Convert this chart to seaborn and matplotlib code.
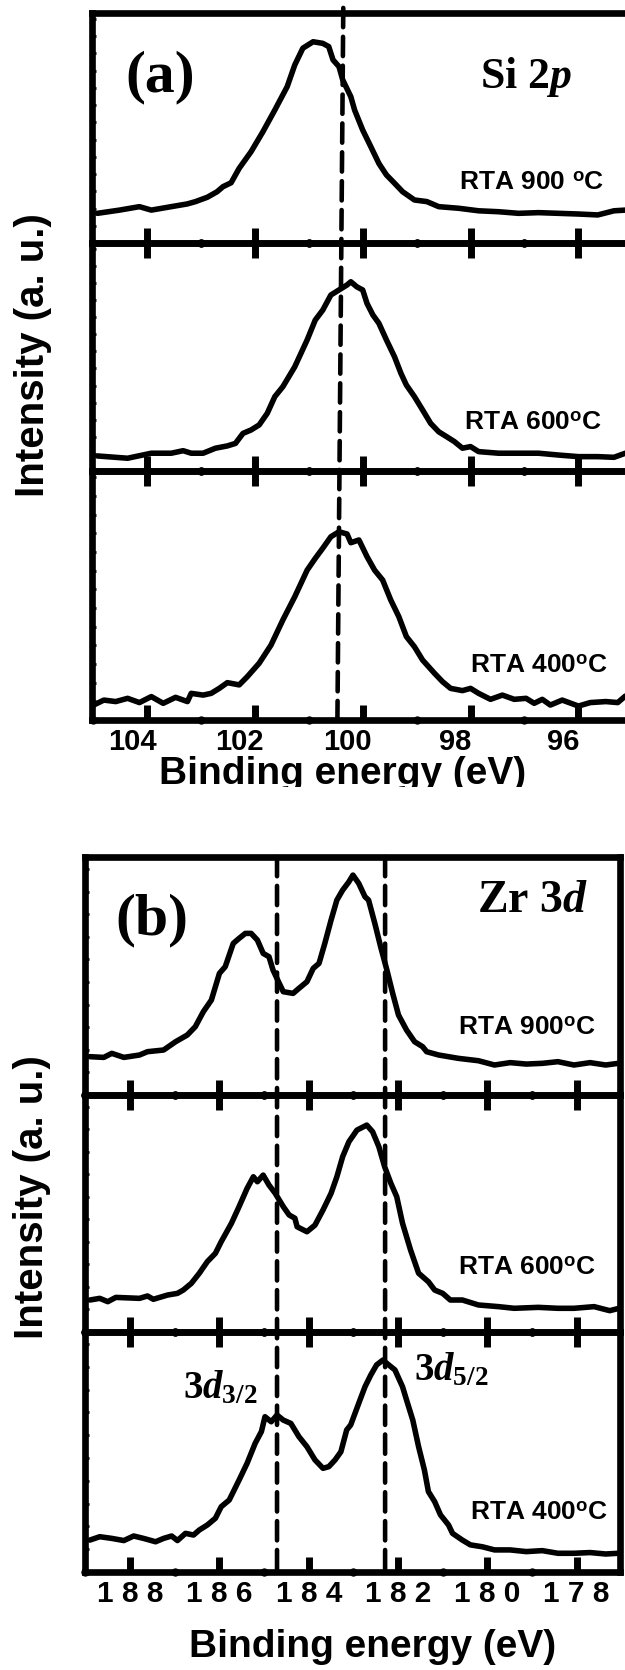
import numpy as np
import pandas as pd
import seaborn as sns
import matplotlib
matplotlib.use("Agg")
import matplotlib.pyplot as plt
import matplotlib.transforms as mtransforms
from matplotlib.patches import ConnectionPatch
from matplotlib.ticker import FixedLocator, MultipleLocator

# ---------------- data ----------------
temps = ["900", "600", "400"]

si_900_E = [104.92, 104.51, 104.14, 103.92, 103.55, 103.25, 103.10, 102.88, 102.70, 102.59,
            102.44, 102.29, 102.07, 101.85, 101.63, 101.40, 101.26, 101.11, 100.92, 100.74,
            100.63, 100.55, 100.44, 100.37, 100.22, 100.15, 100.00, 99.85, 99.70, 99.56,
            99.41, 99.26, 99.04, 98.81, 98.59, 98.22, 97.85, 97.48, 97.11, 96.74,
            96.37, 96.00, 95.64, 95.34, 95.13]
si_900_I = [0.129, 0.143, 0.158, 0.143, 0.158, 0.170, 0.180, 0.199, 0.223, 0.245,
            0.262, 0.325, 0.397, 0.484, 0.578, 0.680, 0.774, 0.847, 0.875, 0.868,
            0.854, 0.796, 0.767, 0.709, 0.636, 0.578, 0.491, 0.419, 0.346, 0.296,
            0.260, 0.223, 0.187, 0.180, 0.158, 0.151, 0.140, 0.136, 0.129, 0.132,
            0.129, 0.126, 0.122, 0.140, 0.143]

si_600_E = [104.92, 104.36, 103.92, 103.55, 103.33, 103.18, 102.96, 102.73, 102.51, 102.36,
            102.22, 102.07, 101.92, 101.77, 101.63, 101.48, 101.26, 101.03, 100.88, 100.74,
            100.59, 100.44, 100.29, 100.22, 100.11, 100.00, 99.92, 99.81, 99.70, 99.56,
            99.41, 99.29, 99.19, 99.04, 98.89, 98.74, 98.59, 98.44, 98.30, 98.15,
            98.00, 97.85, 97.48, 97.11, 96.74, 96.37, 96.00, 95.64, 95.34, 95.13]
si_600_I = [0.066, 0.056, 0.078, 0.078, 0.089, 0.078, 0.078, 0.100, 0.110, 0.121,
            0.165, 0.180, 0.202, 0.253, 0.326, 0.370, 0.457, 0.575, 0.662, 0.706,
            0.772, 0.794, 0.816, 0.830, 0.808, 0.794, 0.735, 0.684, 0.648, 0.575,
            0.501, 0.428, 0.377, 0.326, 0.268, 0.209, 0.172, 0.150, 0.129, 0.100,
            0.107, 0.085, 0.078, 0.078, 0.078, 0.070, 0.063, 0.063, 0.060, 0.078]

si_400_E = [104.99, 104.80, 104.58, 104.36, 104.14, 103.92, 103.70, 103.47, 103.25, 103.18,
            102.96, 102.81, 102.66, 102.51, 102.29, 102.14, 101.92, 101.70, 101.48, 101.26,
            101.03, 100.88, 100.74, 100.59, 100.44, 100.29, 100.22, 100.07, 99.92, 99.78,
            99.63, 99.48, 99.33, 99.19, 99.04, 98.89, 98.67, 98.52, 98.37, 98.15,
            98.00, 97.85, 97.63, 97.41, 97.19, 96.97, 96.82, 96.67, 96.52, 96.30,
            96.00, 95.78, 95.49, 95.27, 95.13]
si_400_I = [0.060, 0.080, 0.074, 0.087, 0.070, 0.094, 0.067, 0.091, 0.074, 0.107,
            0.100, 0.107, 0.127, 0.150, 0.141, 0.174, 0.228, 0.301, 0.402, 0.495,
            0.602, 0.649, 0.690, 0.736, 0.756, 0.747, 0.712, 0.723, 0.656, 0.602,
            0.562, 0.482, 0.415, 0.335, 0.294, 0.241, 0.188, 0.154, 0.127, 0.118,
            0.127, 0.107, 0.083, 0.100, 0.083, 0.087, 0.067, 0.083, 0.060, 0.080,
            0.056, 0.070, 0.074, 0.070, 0.096]

zr_900_E = [188.90, 188.59, 188.41, 188.14, 187.79, 187.61, 187.25, 186.98, 186.72, 186.54,
            186.36, 186.18, 186.00, 185.87, 185.69, 185.56, 185.42, 185.29, 185.15, 185.02,
            184.89, 184.80, 184.66, 184.57, 184.35, 184.22, 184.04, 183.90, 183.77, 183.64,
            183.50, 183.37, 183.24, 183.10, 183.01, 182.88, 182.74, 182.66, 182.52, 182.39,
            182.25, 182.12, 181.99, 181.81, 181.63, 181.45, 181.36, 181.09, 180.65, 180.20,
            179.84, 179.49, 179.13, 178.77, 178.42, 178.06, 177.70, 177.35, 177.07]
zr_900_I = [0.161, 0.158, 0.175, 0.158, 0.168, 0.182, 0.189, 0.224, 0.252, 0.287,
            0.350, 0.399, 0.511, 0.539, 0.637, 0.658, 0.679, 0.679, 0.651, 0.595,
            0.581, 0.525, 0.469, 0.434, 0.427, 0.448, 0.476, 0.532, 0.553, 0.637,
            0.735, 0.819, 0.861, 0.896, 0.924, 0.889, 0.833, 0.819, 0.721, 0.623,
            0.525, 0.427, 0.336, 0.273, 0.224, 0.203, 0.182, 0.168, 0.154, 0.144,
            0.126, 0.136, 0.130, 0.133, 0.140, 0.126, 0.136, 0.126, 0.133]

zr_600_E = [188.90, 188.68, 188.50, 188.32, 187.79, 187.61, 187.48, 187.16, 186.94, 186.81,
            186.63, 186.45, 186.27, 186.09, 185.96, 185.73, 185.56, 185.38, 185.24, 185.15,
            185.02, 184.89, 184.75, 184.57, 184.44, 184.31, 184.26, 184.04, 183.86, 183.68,
            183.50, 183.37, 183.24, 183.10, 182.92, 182.70, 182.57, 182.43, 182.30, 182.16,
            182.03, 181.90, 181.72, 181.54, 181.32, 181.18, 181.00, 180.83, 180.56, 180.20,
            179.75, 179.40, 178.86, 178.42, 178.06, 177.61, 177.26, 177.05]
zr_600_I = [0.135, 0.142, 0.128, 0.146, 0.142, 0.152, 0.138, 0.156, 0.163, 0.177,
            0.205, 0.248, 0.297, 0.332, 0.381, 0.459, 0.529, 0.606, 0.655, 0.634,
            0.662, 0.620, 0.585, 0.529, 0.494, 0.480, 0.444, 0.423, 0.451, 0.515,
            0.585, 0.655, 0.740, 0.803, 0.852, 0.873, 0.845, 0.782, 0.697, 0.627,
            0.571, 0.459, 0.346, 0.248, 0.212, 0.177, 0.163, 0.135, 0.135, 0.114,
            0.107, 0.100, 0.104, 0.100, 0.100, 0.107, 0.090, 0.100]

zr_400_E = [188.90, 188.68, 188.41, 188.14, 187.92, 187.70, 187.43, 187.25, 187.07, 186.94,
            186.76, 186.58, 186.45, 186.27, 186.09, 185.96, 185.78, 185.56, 185.38, 185.20,
            185.06, 184.98, 184.84, 184.71, 184.57, 184.40, 184.22, 184.04, 183.86, 183.68,
            183.55, 183.41, 183.28, 183.15, 183.06, 182.88, 182.74, 182.61, 182.48, 182.34,
            182.21, 182.07, 181.90, 181.81, 181.67, 181.54, 181.41, 181.32, 181.18, 181.05,
            180.87, 180.78, 180.56, 180.38, 180.11, 179.84, 179.49, 179.13, 178.77, 178.42,
            178.06, 177.70, 177.35, 177.07]
zr_400_I = [0.133, 0.147, 0.140, 0.131, 0.150, 0.140, 0.126, 0.140, 0.150, 0.131,
            0.161, 0.154, 0.175, 0.196, 0.224, 0.272, 0.300, 0.383, 0.453, 0.536,
            0.585, 0.647, 0.626, 0.654, 0.633, 0.619, 0.564, 0.522, 0.467, 0.432,
            0.439, 0.467, 0.501, 0.592, 0.613, 0.703, 0.772, 0.821, 0.863, 0.883,
            0.863, 0.842, 0.772, 0.717, 0.633, 0.522, 0.425, 0.335, 0.293, 0.238,
            0.196, 0.161, 0.133, 0.113, 0.105, 0.092, 0.092, 0.085, 0.089, 0.078,
            0.078, 0.081, 0.075, 0.078]

si_ticks = [104, 102, 100, 98, 96]
si_tick_labels = ["104", "102", "100", "98", "96"]
zr_ticks = [188, 186, 184, 182, 180, 178]
zr_tick_labels = ["1 8 8", "1 8 6", "1 8 4", "1 8 2", "1 8 0", "1 7 8"]
si_xlim = (105.02, 95.08)
zr_xlim = (189.01, 177.03)
si_ref_line = (100.36, 100.47)       # dashed guide (top, bottom)
zr_ref_lines = [184.71, 182.29]

# ---------------- style ----------------
sns.set_style("white")
plt.rcParams["font.family"] = ["Liberation Sans", "DejaVu Sans"]
plt.rcParams["font.weight"] = "bold"
for k in ["text.color", "axes.labelcolor", "xtick.color", "ytick.color", "axes.edgecolor"]:
    plt.rcParams[k] = "black"
plt.rcParams["mathtext.fontset"] = "custom"
plt.rcParams["mathtext.rm"] = "Liberation Serif:bold"
plt.rcParams["mathtext.it"] = "Liberation Serif:italic:bold"
plt.rcParams["mathtext.bf"] = "Liberation Sans:bold"

W, H = 625, 1670
fig = plt.figure(figsize=(W / 100, H / 100), dpi=100)
fig.patch.set_facecolor("white")


def box(x0, x1, ytop, ybot):
    return [x0 / W, 1 - ybot / H, (x1 - x0) / W, (ybot - ytop) / H]


def fx(x):
    return x / W


def fy(y):
    return 1 - y / H


LW_SPINE = 4.8
LW_CURVE = 4.0

axes_a = [fig.add_axes(box(92, 628, 13, 243)),
          fig.add_axes(box(92, 628, 243, 471)),
          fig.add_axes(box(92, 628, 471, 720))]
axes_b = [fig.add_axes(box(85, 620, 857, 1095)),
          fig.add_axes(box(85, 620, 1095, 1332)),
          fig.add_axes(box(85, 620, 1332, 1572))]

si_series = [(si_900_E, si_900_I), (si_600_E, si_600_I), (si_400_E, si_400_I)]
zr_series = [(zr_900_E, zr_900_I), (zr_600_E, zr_600_I), (zr_400_E, zr_400_I)]


def style_axes(ax, xlim, ticks, labels, first, last, ystep, labelsize):
    ax.set_xlim(*xlim)
    ax.set_ylim(0, 1)
    ax.set_xlabel("")
    ax.set_ylabel("")
    for s in ax.spines.values():
        s.set_linewidth(LW_SPINE)
        s.set_color("black")
    ax.xaxis.set_major_locator(FixedLocator(ticks))
    ax.xaxis.set_minor_locator(MultipleLocator(1))
    ax.set_xticklabels(labels if last else [""] * len(ticks))
    ax.tick_params(axis="x", which="major", direction="in", length=11, width=5,
                   top=not first, bottom=True, labelbottom=last,
                   labelsize=labelsize, pad=6, color="black", labelcolor="black")
    ax.tick_params(axis="x", which="minor", direction="in", length=3.5, width=5,
                   top=not first, bottom=True, color="black")
    ax.yaxis.set_major_locator(MultipleLocator(ystep))
    ax.tick_params(axis="y", which="major", direction="in", length=3, width=2,
                   left=True, right=False, labelleft=False, color="black")
    ax.grid(False)
    ax.patch.set_alpha(0)


def round_minor_ticks(ax):
    # the minor ticks of the original are small round dots sitting on the spine
    for t in ax.xaxis.get_minor_ticks():
        for ln in (t.tick1line, t.tick2line):
            ln.set_marker("o")
            ln.set_markersize(6.0)
            ln.set_markeredgewidth(0)
            ln.set_markerfacecolor("black")


for i, (ax, (e, inten)) in enumerate(zip(axes_a, si_series)):
    df = pd.DataFrame({"E": e, "I": inten})
    sns.lineplot(data=df, x="E", y="I", ax=ax, color="black", lw=LW_CURVE,
                 sort=False, estimator=None)
    style_axes(ax, si_xlim, si_ticks, si_tick_labels, i == 0, i == 2, 0.075, 21)

for i, (ax, (e, inten)) in enumerate(zip(axes_b, zr_series)):
    df = pd.DataFrame({"E": e, "I": inten})
    sns.lineplot(data=df, x="E", y="I", ax=ax, color="black", lw=LW_CURVE,
                 sort=False, estimator=None)
    style_axes(ax, zr_xlim, zr_ticks, zr_tick_labels, i == 0, i == 2, 0.095, 21.5)

for ax in axes_a + axes_b:
    round_minor_ticks(ax)

# tick labels of panel (a) sit a little left of their tick marks in the original
shift = mtransforms.ScaledTranslation(-15 / 100, 0, fig.dpi_scale_trans)
for lab in axes_a[2].get_xticklabels():
    lab.set_transform(lab.get_transform() + shift)

# dashed guide lines
dash = (0, (4.2, 2.1))
con = ConnectionPatch(xyA=(si_ref_line[0], 1.022), coordsA=axes_a[0].get_xaxis_transform(),
                      xyB=(si_ref_line[1], -0.028), coordsB=axes_a[2].get_xaxis_transform(),
                      color="black", lw=3.3, linestyle=dash, zorder=5)
fig.add_artist(con)
for e in zr_ref_lines:
    con = ConnectionPatch(xyA=(e, 1.0), coordsA=axes_b[0].get_xaxis_transform(),
                          xyB=(e, -0.02), coordsB=axes_b[2].get_xaxis_transform(),
                          color="black", lw=3.3, linestyle=dash, zorder=5)
    fig.add_artist(con)

# ---------------- texts ----------------
serif = ["Liberation Serif", "DejaVu Serif"]
rta_kw = dict(fontsize=19, fontweight="bold", ha="right", va="baseline", color="black")

fig.text(fx(160), fy(77), "(a)", family=serif, fontweight="bold", fontsize=43,
         ha="center", va="center", color="black")
fig.text(fx(572), fy(88), r"$\mathrm{Si\ 2}\mathit{p}$", fontsize=31.5, ha="right",
         va="baseline", color="black")
fig.text(fx(604), fy(190), r"RTA 900 $^\mathbf{o}$C", **rta_kw)
fig.text(fx(602), fy(430), r"RTA 600$^\mathbf{o}$C", **rta_kw)
fig.text(fx(608), fy(673), r"RTA 400$^\mathbf{o}$C", **rta_kw)

fig.text(fx(152), fy(920), "(b)", family=serif, fontweight="bold", fontsize=43,
         ha="center", va="center", color="black")
fig.text(fx(588), fy(912), r"$\mathrm{Zr\ 3}\mathit{d}$", fontsize=33, ha="right",
         va="baseline", color="black")
fig.text(fx(596), fy(1035), r"RTA 900$^\mathbf{o}$C", **rta_kw)
fig.text(fx(596), fy(1275), r"RTA 600$^\mathbf{o}$C", **rta_kw)
fig.text(fx(608), fy(1520), r"RTA 400$^\mathbf{o}$C", **rta_kw)
fig.text(fx(183), fy(1398), r"$\mathit{3d}_{\mathit{3/2}}$", fontsize=28, ha="left",
         va="baseline", color="black")
fig.text(fx(414), fy(1380), r"$\mathit{3d}_{\mathit{5/2}}$", fontsize=28, ha="left",
         va="baseline", color="black")

ylab_kw = dict(fontsize=29, fontweight="bold", rotation=90, ha="center", va="center",
               color="black")
fig.text(fx(33), fy(355), "Intensity (a. u.)", **ylab_kw)
fig.text(fx(32), fy(1197), "Intensity (a. u.)", **ylab_kw)

xlab_kw = dict(fontsize=28, fontweight="bold", ha="center", va="baseline", color="black")
xa = fig.text(fx(343), fy(784), "Binding energy (eV)", **xlab_kw)
# the upper panel of the original is cropped just below this label's baseline
xa.set_clip_box(mtransforms.TransformedBbox(
    mtransforms.Bbox([[0, fy(787)], [1, 1]]), fig.transFigure))
xa.set_clip_on(True)
fig.text(fx(373), fy(1657), "Binding energy (eV)", **xlab_kw)

fig.savefig("out.png", dpi=100, facecolor="white")
